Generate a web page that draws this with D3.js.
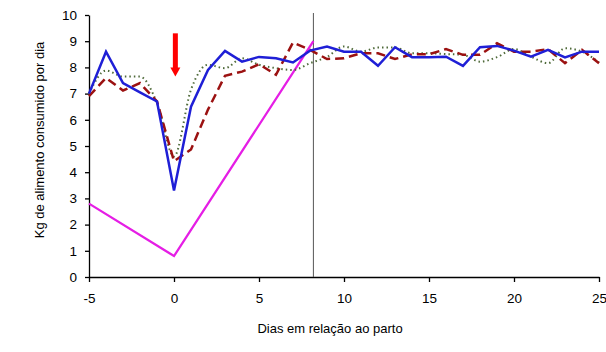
<!DOCTYPE html>
<html>
<head>
<meta charset="utf-8">
<script src="https://cdn.jsdelivr.net/npm/d3@7"></script>
<style>
  body { margin: 0; background: #fff; }
  svg { font-family: "Liberation Sans", Arial, sans-serif; }
  .axis text { font-size: 13.5px; fill: #000; }
  .axis path, .axis line { stroke: #000; stroke-width: 1.3px; }
</style>
</head>
<body>
<div id="graphic"></div>
<script>
const WIDTH = 606;
const HEIGHT = 352;
const X_LEFT = 89;
const X_RIGHT = 599;
const Y_TOP = 15;
const Y_BOTTOM = 277;

// dias em relação ao parto
const DAYS = [-5, -4, -3, -2, -1, 0, 1, 2, 3, 4, 5, 6, 7, 8, 9, 10, 11, 12, 13, 14, 15, 16, 17, 18, 19, 20, 21, 22, 23, 24, 25];
const BLUE = [7.0, 8.6, 7.4, 7.05, 6.7, 3.3, 6.5, 7.9, 8.63, 8.22, 8.4, 8.35, 8.19, 8.64, 8.8, 8.6, 8.6, 8.06, 8.77, 8.39, 8.39, 8.41, 8.06, 8.77, 8.82, 8.64, 8.41, 8.67, 8.38, 8.6, 8.6];
const RED = [6.9, 7.6, 7.12, 7.4, 6.7, 4.42, 4.87, 6.39, 7.68, 7.84, 8.12, 7.72, 8.95, 8.67, 8.32, 8.35, 8.54, 8.54, 8.32, 8.5, 8.5, 8.7, 8.48, 8.48, 8.92, 8.6, 8.6, 8.7, 8.16, 8.67, 8.16];
const GREEN = [7.0, 7.88, 7.65, 7.65, 6.64, 4.6, 7.15, 8.1, 7.97, 8.35, 8.1, 7.97, 7.9, 8.16, 8.4, 8.8, 8.6, 8.76, 8.76, 8.54, 8.54, 8.51, 8.48, 8.22, 8.39, 8.7, 8.41, 8.16, 8.73, 8.6, 8.19];
const PINK_DAYS = [-5, 0, 8.2];
const PINK = [2.8, 0.8, 9.0];
const MARK_DAY = 8.2;
const ARROW = { day: 0.08, from: 9.3, to: 7.65 };
const X_TICKS = [-5, 0, 5, 10, 15, 20, 25];
const Y_TICKS = [0, 1, 2, 3, 4, 5, 6, 7, 8, 9, 10];

var svg = d3.select("#graphic")
  .append("svg")
  .attr("width", WIDTH)
  .attr("height", HEIGHT);

var xScale = d3.scaleLinear().domain([-5, 25]).range([X_LEFT, X_RIGHT]);
var yScale = d3.scaleLinear().domain([0, 10]).range([Y_BOTTOM, Y_TOP]);

svg.append("g")
  .attr("class", "axis")
  .attr("transform", `translate(0, ${Y_BOTTOM})`)
  .call(d3.axisBottom(xScale).tickValues(X_TICKS).tickFormat(d => String(d))
    .tickSize(5).tickSizeOuter(0).tickPadding(11));

svg.append("g")
  .attr("class", "axis")
  .attr("transform", `translate(${X_LEFT}, 0)`)
  .call(d3.axisLeft(yScale).tickValues(Y_TICKS).tickSize(4).tickSizeOuter(0).tickPadding(8));

// linha vertical
svg.append("line")
  .attr("x1", xScale(MARK_DAY)).attr("x2", xScale(MARK_DAY))
  .attr("y1", Y_TOP - 2).attr("y2", Y_BOTTOM)
  .attr("stroke", "#555")
  .attr("stroke-width", 1);

function series(ys, xs) {
  return ys.map((v, i) => ({ day: xs[i], value: v }));
}

var line = d3.line()
  .x(d => xScale(d.day))
  .y(d => yScale(d.value));

var smooth = d3.line()
  .curve(d3.curveMonotoneX)
  .x(d => xScale(d.day))
  .y(d => yScale(d.value));

svg.append("path")
  .datum(series(PINK, PINK_DAYS))
  .attr("d", line)
  .attr("fill", "none")
  .attr("stroke", "#e51ee5")
  .attr("stroke-width", 2.3);

svg.append("path")
  .datum(series(GREEN, DAYS))
  .attr("d", smooth)
  .attr("fill", "none")
  .attr("stroke", "#4f6a3a")
  .attr("stroke-width", 2)
  .attr("stroke-dasharray", "1.5,3");

svg.append("path")
  .datum(series(RED, DAYS))
  .attr("d", line)
  .attr("fill", "none")
  .attr("stroke", "#9b1111")
  .attr("stroke-width", 2.5)
  .attr("stroke-dasharray", "9,5");

svg.append("path")
  .datum(series(BLUE, DAYS))
  .attr("d", line)
  .attr("fill", "none")
  .attr("stroke", "#1f1fd6")
  .attr("stroke-width", 2.5);

// seta vermelha
var ax = xScale(ARROW.day);
var aTop = yScale(ARROW.from);
var aTip = yScale(ARROW.to);
svg.append("rect")
  .attr("x", ax - 2.5).attr("y", aTop)
  .attr("width", 5).attr("height", aTip - aTop - 8)
  .attr("fill", "#f00");
svg.append("path")
  .attr("d", `M${ax - 5},${aTip - 9} L${ax + 5},${aTip - 9} L${ax},${aTip} Z`)
  .attr("fill", "#f00");

svg.append("text")
  .attr("x", 330)
  .attr("y", 333)
  .attr("text-anchor", "middle")
  .style("font-size", "13px")
  .text("Dias em relação ao parto");

svg.append("text")
  .attr("transform", "translate(44, 140) rotate(-90)")
  .attr("text-anchor", "middle")
  .style("font-size", "13px")
  .text("Kg de alimento consumido por dia");
</script>
</body>
</html>
